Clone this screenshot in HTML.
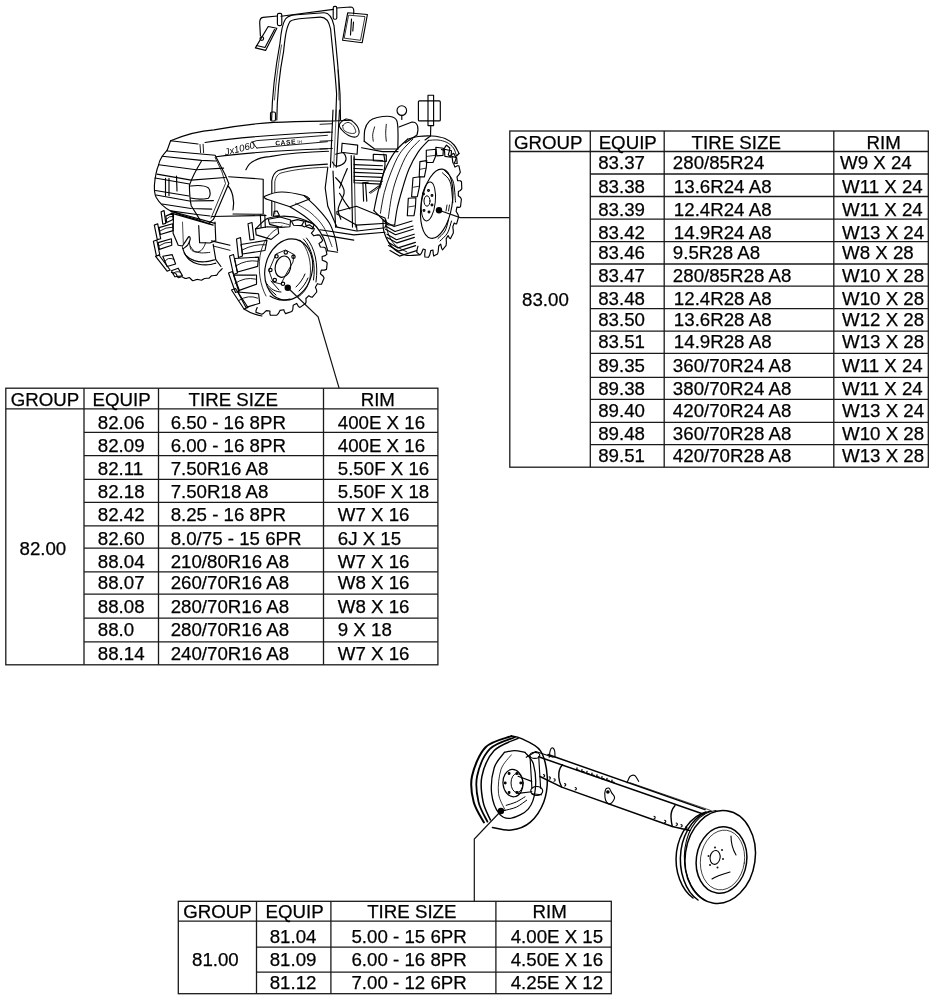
<!DOCTYPE html>
<html><head><meta charset="utf-8"><style>
html,body{margin:0;padding:0;background:#fff;width:936px;height:1000px;overflow:hidden}
svg{display:block;filter:grayscale(1)}
text{font-family:"Liberation Sans",sans-serif;font-size:18.7px;fill:#000;stroke:#000;stroke-width:0.25px}
.ln{fill:none;stroke:#1a1a1a;stroke-width:1.3}
.d{fill:none;stroke:#000;stroke-width:1.15;stroke-linecap:round;stroke-linejoin:round}
.d text{stroke:none}
</style></head><body>
<svg width="936" height="1000" viewBox="0 0 936 1000">
<rect x="509.8" y="131" width="418.50" height="336.20" class="ln"/>
<line x1="590.3" y1="131" x2="590.3" y2="467.2" class="ln"/>
<line x1="664.2" y1="131" x2="664.2" y2="467.2" class="ln"/>
<line x1="833.8" y1="131" x2="833.8" y2="467.2" class="ln"/>
<line x1="509.8" y1="151.5" x2="928.3" y2="151.5" class="ln"/>
<line x1="590.3" y1="174" x2="928.3" y2="174" class="ln"/>
<line x1="590.3" y1="196.5" x2="928.3" y2="196.5" class="ln"/>
<line x1="590.3" y1="219.1" x2="928.3" y2="219.1" class="ln"/>
<line x1="590.3" y1="241.7" x2="928.3" y2="241.7" class="ln"/>
<line x1="590.3" y1="264" x2="928.3" y2="264" class="ln"/>
<line x1="590.3" y1="286.2" x2="928.3" y2="286.2" class="ln"/>
<line x1="590.3" y1="308.6" x2="928.3" y2="308.6" class="ln"/>
<line x1="590.3" y1="331.2" x2="928.3" y2="331.2" class="ln"/>
<line x1="590.3" y1="353.4" x2="928.3" y2="353.4" class="ln"/>
<line x1="590.3" y1="377.3" x2="928.3" y2="377.3" class="ln"/>
<line x1="590.3" y1="399.4" x2="928.3" y2="399.4" class="ln"/>
<line x1="590.3" y1="422.3" x2="928.3" y2="422.3" class="ln"/>
<line x1="590.3" y1="444.7" x2="928.3" y2="444.7" class="ln"/>
<text x="514.06" y="149.00">GROUP</text>
<text x="598.67" y="149.00">EQUIP</text>
<text x="691.58" y="149.00">TIRE SIZE</text>
<text x="866.57" y="149.00">RIM</text>
<text x="598.19" y="169.45">83.37</text>
<text x="672.86" y="169.45">280/85R24</text>
<text x="842.02" y="169.45" dx="-2">W9 X 24</text>
<text x="598.19" y="193.05">83.38</text>
<text x="672.86" y="193.05" dx="1">13.6R24 A8</text>
<text x="842.02" y="193.05">W11 X 24</text>
<text x="598.19" y="215.95">83.39</text>
<text x="672.86" y="215.95" dx="1">12.4R24 A8</text>
<text x="842.02" y="215.95">W11 X 24</text>
<text x="598.19" y="238.95">83.42</text>
<text x="672.86" y="238.95" dx="1">14.9R24 A8</text>
<text x="842.02" y="238.95">W13 X 24</text>
<text x="598.19" y="259.45">83.46</text>
<text x="672.86" y="259.45">9.5R28 A8</text>
<text x="842.02" y="259.45">W8 X 28</text>
<text x="598.19" y="281.85">83.47</text>
<text x="672.86" y="281.85">280/85R28 A8</text>
<text x="842.02" y="281.85">W10 X 28</text>
<text x="598.19" y="304.55">83.48</text>
<text x="672.86" y="304.55" dx="1">12.4R28 A8</text>
<text x="842.02" y="304.55">W10 X 28</text>
<text x="598.19" y="326.25">83.50</text>
<text x="672.86" y="326.25" dx="1">13.6R28 A8</text>
<text x="842.02" y="326.25">W12 X 28</text>
<text x="598.19" y="348.35">83.51</text>
<text x="672.86" y="348.35" dx="1">14.9R28 A8</text>
<text x="842.02" y="348.35">W13 X 28</text>
<text x="598.19" y="372.10">89.35</text>
<text x="672.86" y="372.10">360/70R24 A8</text>
<text x="842.02" y="372.10">W11 X 24</text>
<text x="598.19" y="394.85">89.38</text>
<text x="672.86" y="394.85">380/70R24 A8</text>
<text x="842.02" y="394.85">W11 X 24</text>
<text x="598.19" y="417.35">89.40</text>
<text x="672.86" y="417.35">420/70R24 A8</text>
<text x="842.02" y="417.35">W13 X 24</text>
<text x="598.19" y="439.85">89.48</text>
<text x="672.86" y="439.85">360/70R28 A8</text>
<text x="842.02" y="439.85">W10 X 28</text>
<text x="598.19" y="462.35">89.51</text>
<text x="672.86" y="462.35">420/70R28 A8</text>
<text x="842.02" y="462.35">W13 X 28</text>
<text x="522.09" y="306.15">83.00</text>
<rect x="5.8" y="388.2" width="432.10" height="276.60" class="ln"/>
<line x1="84" y1="388.2" x2="84" y2="664.8" class="ln"/>
<line x1="158.5" y1="388.2" x2="158.5" y2="664.8" class="ln"/>
<line x1="323.5" y1="388.2" x2="323.5" y2="664.8" class="ln"/>
<line x1="5.8" y1="408.8" x2="437.9" y2="408.8" class="ln"/>
<line x1="84" y1="432.3" x2="437.9" y2="432.3" class="ln"/>
<line x1="84" y1="455.7" x2="437.9" y2="455.7" class="ln"/>
<line x1="84" y1="479.4" x2="437.9" y2="479.4" class="ln"/>
<line x1="84" y1="502.3" x2="437.9" y2="502.3" class="ln"/>
<line x1="84" y1="525.9" x2="437.9" y2="525.9" class="ln"/>
<line x1="84" y1="548.2" x2="437.9" y2="548.2" class="ln"/>
<line x1="84" y1="571.8" x2="437.9" y2="571.8" class="ln"/>
<line x1="84" y1="594.1" x2="437.9" y2="594.1" class="ln"/>
<line x1="84" y1="618.1" x2="437.9" y2="618.1" class="ln"/>
<line x1="84" y1="641.9" x2="437.9" y2="641.9" class="ln"/>
<text x="10.66" y="405.60">GROUP</text>
<text x="92.57" y="405.60">EQUIP</text>
<text x="188.58" y="405.60">TIRE SIZE</text>
<text x="360.67" y="405.60">RIM</text>
<text x="97.79" y="428.95">82.06</text>
<text x="170.65" y="428.95">6.50 - 16 8PR</text>
<text x="337.77" y="428.95">400E X 16</text>
<text x="97.79" y="451.65">82.09</text>
<text x="170.65" y="451.65">6.00 - 16 8PR</text>
<text x="337.77" y="451.65">400E X 16</text>
<text x="97.79" y="475.05">82.11</text>
<text x="170.65" y="475.05">7.50R16 A8</text>
<text x="337.77" y="475.05">5.50F X 16</text>
<text x="97.79" y="497.85">82.18</text>
<text x="170.65" y="497.85">7.50R18 A8</text>
<text x="337.77" y="497.85">5.50F X 18</text>
<text x="97.79" y="520.55">82.42</text>
<text x="170.65" y="520.55">8.25 - 16 8PR</text>
<text x="337.77" y="520.55">W7 X 16</text>
<text x="97.79" y="544.60">82.60</text>
<text x="170.65" y="544.60">8.0/75 - 15 6PR</text>
<text x="337.77" y="544.60">6J X 15</text>
<text x="97.79" y="567.55">88.04</text>
<text x="170.65" y="567.55">210/80R16 A8</text>
<text x="337.77" y="567.55">W7 X 16</text>
<text x="97.79" y="589.05">88.07</text>
<text x="170.65" y="589.05">260/70R16 A8</text>
<text x="337.77" y="589.05">W8 X 16</text>
<text x="97.79" y="613.15">88.08</text>
<text x="170.65" y="613.15">280/70R16 A8</text>
<text x="337.77" y="613.15">W8 X 16</text>
<text x="97.79" y="635.55">88.0</text>
<text x="170.65" y="635.55">280/70R16 A8</text>
<text x="337.77" y="635.55">9 X 18</text>
<text x="97.79" y="660.05">88.14</text>
<text x="170.65" y="660.05">240/70R16 A8</text>
<text x="337.77" y="660.05">W7 X 16</text>
<text x="19.49" y="555.05">82.00</text>
<rect x="178.3" y="901.3" width="433.00" height="92.40" class="ln"/>
<line x1="256.5" y1="901.3" x2="256.5" y2="993.7" class="ln"/>
<line x1="330.9" y1="901.3" x2="330.9" y2="993.7" class="ln"/>
<line x1="495.9" y1="901.3" x2="495.9" y2="993.7" class="ln"/>
<line x1="178.3" y1="921.2" x2="611.3" y2="921.2" class="ln"/>
<line x1="256.5" y1="947.2" x2="611.3" y2="947.2" class="ln"/>
<line x1="256.5" y1="972.2" x2="611.3" y2="972.2" class="ln"/>
<text x="183.16" y="918.30">GROUP</text>
<text x="265.57" y="918.30">EQUIP</text>
<text x="367.18" y="918.30">TIRE SIZE</text>
<text x="532.57" y="918.30">RIM</text>
<text x="269.69" y="943.35">81.04</text>
<text x="351.45" y="943.35">5.00 - 15 6PR</text>
<text x="510.67" y="943.35">4.00E X 15</text>
<text x="269.69" y="966.25">81.09</text>
<text x="351.45" y="966.25">6.00 - 16 8PR</text>
<text x="510.67" y="966.25">4.50E X 16</text>
<text x="269.69" y="988.85">81.12</text>
<text x="351.45" y="988.85">7.00 - 12 6PR</text>
<text x="510.67" y="988.85">4.25E X 12</text>
<text x="191.99" y="966.45">81.00</text>
<g class="d">
<path d="M271.6,120 C272,100 275,70 280,43 C281,32 282,24 285.5,19 C288,15.5 292,15 300,14.5 L323.8,12.8 C329,12.5 332,17 334,25.6 C336,45 338.3,68.4 340,94 L340.5,120"/>
<path d="M276.8,120 C277,100 280,70 283.6,51.3 C285,38 286,28 290,21.5 C292,19.5 296,18.8 305,18.2 L320.3,17.1 C326,17 329,21 330.6,29 C332,45 334.9,68.4 336.6,94 L335.7,120"/>
<path d="M274.5,100 C276,80 279,60 281.5,45" stroke-width="0.7"/>
<path d="M338,70 C338.5,80 339,90 339,100" stroke-width="0.7"/>
<rect x="277.4" y="13.4" width="4.4" height="12.2" rx="1.5"/>
<rect x="333.2" y="6.4" width="3.6" height="12.8" rx="1.5"/>
<rect x="270.5" y="112" width="5" height="9" rx="1.5"/>
<path d="M281,16.2 L333.5,9.4"/>
<path d="M277.5,16 L263,17.4 C260.5,17.8 259.6,19.5 259.7,23 L260.4,36"/>
<path d="M255.4,47.9 L265.6,50.4 L276.8,28.2 L268.2,26.5 Z"/>
<path d="M256.5,45.5 L265,47.5 L274.5,29.5"/>
<circle cx="261.8" cy="38.5" r="1.8"/>
<path d="M336.8,8 L350.5,7 C352.8,7 353.8,8.5 353.8,11 L353.6,14"/>
<path d="M347.7,12.8 L367.4,14.5 L362.2,42.7 L342.6,40.2 Z"/>
<path d="M349,15.2 L365,16.6 L360.5,40.3 L344.6,38.2 Z" stroke-width="0.8"/>
<path d="M351.5,19 L350.5,35 M353.5,22 L352.8,31"/>
<path d="M170.6,140.8 C182,136 198,131 214.1,129.9 C235,126 255,123.5 273.9,122.4 C295,121.5 315,121.3 333,121 C340,120.8 346,120.5 352,120.3"/>
<path d="M170.6,140.8 L167.2,150.2 M170.6,140.8 L198,144"/>
<path d="M200,144.5 L200.6,152.7 M203.1,144.2 L203.6,152.7" stroke-width="0.9"/>
<path d="M205,142.5 C240,137 285,134 329.5,132"/>
<path d="M216,156.8 C250,152 290,150 327.4,148.7"/>
<path d="M245.9,169.8 C248,165 251,162 254.7,160.5 C259,158 264,157 269.7,156.6 C285,154 305,152 328.5,151.3"/>
<path d="M271.8,215.4 L271.8,181.2 C272.5,176 275,172 278.2,170.5 C290,167 305,165 327.4,164.1"/>
<path d="M274.8,214 L274.8,182 C275.5,177 278,174 281,173 C292,170 306,168 327,167.2" stroke-width="0.8"/>
<path d="M252,142 L256.8,140.6 L327.4,135.3" stroke-width="0.9"/>
<path d="M256.8,148 L327.4,141.7" stroke-width="0.9"/>
<path d="M252,142 L256.8,148" stroke-width="0.9"/>
<text x="0" y="0" transform="translate(275.5,145.5) rotate(-4.5)" style="font-size:6.6px;font-weight:bold;letter-spacing:0.6px">CASE</text>
<text x="0" y="0" transform="translate(297.5,143.5) rotate(-4.5)" style="font-size:4.5px">IH</text>
<text x="0" y="0" transform="translate(225.5,155.5) rotate(-14)" style="font-size:9.6px;font-style:italic">Jx1060</text>
<path d="M167.2,150.2 C162,156 159,162 158.7,164.7 C156,171 155,178 154.4,185.2 C154.2,191 155,195 156.1,197.2 C160,204 165,208 170.6,210.9 C180,215 190,218 196.3,219.4 L206.5,222.8 L210,223.7"/>
<path d="M167.2,151 L215.1,155.3 L225.3,175 L228.8,183.5 L213.4,219.4 L208.2,223.7"/>
<path d="M215.1,157.5 L222,172 L225.5,183.5 L211,218" stroke-width="0.8"/>
<path d="M201.4,161.3 C196,170 192,178 189.4,185.2 C189.5,195 190,200 191.2,205.7 L199.7,219.4"/>
<path d="M162.1,156.2 L201.4,160.4 L216,161"/>
<path d="M158.7,164.7 L196.3,169.8 L223.6,168.1"/>
<path d="M157,174.1 L191.2,180.1 L225.3,177.5"/>
<path d="M155,178 L189.4,184 M155.5,190.5 L189,196"/>
<path d="M156.1,195 L189.5,201 L213.4,200.6"/>
<path d="M162,204 L191,208.5 L211.7,209.1"/>
<path d="M170.6,210.9 L197,214.5 L210,216"/>
<path d="M165.5,178.4 L165.5,195.5 M169,178.4 L169,195.5"/>
<path d="M190.5,186 C198,185 205,185.5 208.5,188 C211,191 210.5,196 208.5,198.2 C202,199.5 195,199 190.5,198"/>
<path d="M176.5,176 L177,191"/>
<path d="M228.8,176.7 L263.2,179.2 L263.2,214.3 L233,214"/>
<path d="M228,186 C232,190 235,200 233,210"/>
<path d="M212,216.5 L266,215.5"/>
<path d="M173.1,211.8 L215.0,223.4"/>
<path d="M171.4,213.1 L213.2,225.1"/>
<path d="M173.5,214.4 L173.1,233.2 L178.2,245.2 L182.5,246.0"/>
<path d="M198.7,225.5 L199.6,242.6 L209.8,243.0 L215.0,240.9"/>
<path d="M182.5,246.0 C183.0,245.2 184.8,242.5 185.9,240.9 C187.0,239.3 188.2,236.9 188.9,236.6 C189.6,236.3 190.4,237.8 190.2,239.2 C190.0,240.6 188.7,243.6 187.6,245.2 C186.5,246.7 184.0,248.0 183.3,248.6"/>
<path d="M189.3,241.8 C189.6,243.0 189.9,247.7 191.0,249.4 C192.2,251.2 194.4,251.9 196.2,252.0 C197.9,252.2 199.9,251.4 201.3,250.3 C202.7,249.2 204.0,246.5 204.7,245.2 C205.4,243.9 205.4,243.0 205.6,242.6" stroke-width="0.9"/>
<path d="M182.5,222.1 L183.3,243.5" stroke-width="0.7"/>
<path d="M215.0,222.1 L215.8,240.9"/>
<path d="M211.5,240.9 L230.0,245.2"/>
<path d="M213.2,246.0 L230.0,250.3" stroke-width="0.9"/>
<path d="M213.2,244.3 L215.8,259.7 L220.9,266.5"/>
<path d="M161.1,211.8 L164.1,210.6 L165.8,223.4 L162.8,224.2 Z"/>
<path d="M154.3,225.1 L157.7,223.8 L160.7,238.8 L157.3,239.6 Z"/>
<path d="M153.4,241.3 L156.8,240.0 L159.8,255.0 L156.4,255.9 Z"/>
<path d="M155.6,256.3 L159.0,255.0 L170.1,270.0 L167.1,271.2 Z"/>
<path d="M165.8,216.1 L172.6,213.1 L173.1,219.5 L166.7,222.5 Z"/>
<path d="M166.2,219.3 Q169.2,215.8 172.9,216.3" stroke-width="0.9"/>
<path d="M159.0,227.6 L172.6,223.8 L173.1,230.6 L160.3,234.5 Z"/>
<path d="M159.6,231.1 Q165.8,226.9 172.9,227.2" stroke-width="0.9"/>
<path d="M158.1,242.6 L171.4,238.8 L171.8,245.2 L159.4,249.4 Z"/>
<path d="M158.8,246.0 Q164.7,241.9 171.6,242.0" stroke-width="0.9"/>
<path d="M162.8,256.3 L172.2,254.6 L175.6,264.0 L167.1,266.5 Z"/>
<path d="M165.0,261.4 Q167.5,256.6 173.9,259.3" stroke-width="0.9"/>
<path d="M171.4,270.8 L178.2,268.2 L182.5,275.9 L174.8,276.8 Z"/>
<path d="M173.1,273.8 Q174.8,270.7 180.3,272.1" stroke-width="0.9"/>
<path d="M171.4,272.5 C171.9,272.6 174.7,272.7 175.6,273.4 C176.6,274.1 177.4,277.2 178.2,277.6 C179.0,278.1 180.6,276.7 181.6,276.8 C182.6,276.9 184.9,278.4 185.9,278.5 C186.9,278.6 188.4,277.4 189.3,277.6 C190.2,277.9 191.7,280.4 192.7,280.6 C193.8,280.9 195.9,279.4 197.0,279.4 C198.1,279.3 200.3,280.3 201.3,280.2 C202.3,280.1 203.7,278.8 204.7,278.5 C205.7,278.2 208.1,278.4 209.0,278.1 C209.9,277.7 210.5,276.3 211.5,275.9 C212.6,275.5 215.8,275.5 216.7,275.1 C217.6,274.6 217.8,273.2 218.4,272.5 C218.9,271.8 220.4,270.5 220.9,270.0 C221.5,269.4 222.1,268.8 222.2,268.7"/>
<path d="M182.5,247.7 C183.0,249.0 183.9,253.3 185.9,255.4 C187.9,257.6 191.3,259.5 194.4,260.6 C197.6,261.6 201.3,262.0 204.7,261.8 C208.1,261.7 213.2,260.1 215.0,259.7"/>
<path d="M184.2,252.9 C185.0,254.0 187.0,257.8 189.3,259.7 C191.6,261.6 194.7,263.1 197.9,264.0 C201.0,264.8 205.1,265.0 208.1,264.8 C211.1,264.7 214.5,263.4 215.8,263.1"/>
<path d="M190.2,246.0 C190.9,246.9 192.6,250.0 194.4,251.2 C196.3,252.3 198.7,252.6 201.3,252.9 C203.8,253.1 208.4,252.5 209.8,252.4" stroke-width="0.9"/>
<path d="M301.3,225.2 L304.5,226.9 L307.7,225.2 L309.7,224.9 L314.3,228.8 L313.6,230.6 L311.4,233.2 L313.8,235.8 L317.6,234.9 L319.7,235.1 L322.7,240.3 L321.3,242.1 L319.0,243.6 L320.4,247.0 L324.0,247.3 L325.7,248.2 L326.9,254.3 L325.2,255.6 L322.1,256.5 L322.3,260.2 L325.8,261.6 L327.2,263.0 L326.5,269.4 L324.4,270.1 L321.3,270.1 L320.4,273.8 L323.2,276.3 L324.1,278.1 L321.5,284.2 L319.3,284.2 L317.4,283.7 L315.4,287.2 L316.6,290.1 L316.7,292.0 L312.4,297.2 L310.6,296.9 L308.9,295.7 L305.9,298.5 L306.1,301.7 L305.5,303.5 L300.0,307.4 L298.5,306.5 L296.6,303.4 L293.2,305.2 L292.8,309.4 L291.8,311.5 L285.6,313.6 L284.4,311.7 L283.8,309.7 L280.0,310.4 L278.3,313.7 L276.8,315.2 L270.4,315.3 L269.8,313.5 L270.0,311.0 L266.3,310.6 L263.7,313.2 L261.9,314.2 L256.0,312.4 L256.0,310.5 L257.2,307.5"/>
<ellipse cx="288.7" cy="269.5" rx="23.5" ry="31" transform="rotate(14 288.7 269.5)"/>
<path d="M300,240 C308,248 312,262 310,278 C308,288 303,294 298,297" stroke-width="0.8"/>
<path d="M303.5,239 C312,248 316,264 313.5,280 M306.5,238 C315,248 318.5,264 316,282" stroke-width="1"/>
<path d="M296,287 C300,283 303,279 305,274 M299,291 C303,287 306,283 308,278" stroke-width="1"/>
<ellipse cx="283" cy="266.7" rx="7.7" ry="10.8" transform="rotate(14 283 266.7)"/>
<path d="M276.5,253.8 L285.5,250 L294,254.5 L293,262 L285,276 L281,284 L273,282 L269,271 Z" stroke-width="0.9"/>
<circle cx="276.5" cy="256.3" r="1.7"/>
<circle cx="285.8" cy="252.4" r="1.7"/>
<circle cx="293.5" cy="256.8" r="1.7"/>
<circle cx="270.4" cy="270" r="1.7"/>
<circle cx="274.8" cy="280" r="1.7"/>
<circle cx="283" cy="283.8" r="1.7"/>
<path d="M267,284 C270,289 276,292 281,292 M268.5,288 L276,295 M271,281 L279,290" stroke-width="1"/>
<path d="M270,296 C276,300 283,301 290,299" stroke-width="1.1"/>
<path d="M241,244.5 L267,240.2 L265,250.5 L242.5,254 Z"/>
<path d="M242.5,249.8 Q254.0,243.8 266.0,244.8" stroke-width="0.9"/>
<path d="M234.5,258.5 L258.6,257.1 L257.6,266.4 L237.5,272 Z"/>
<path d="M236.0,265.8 Q246.6,259.3 257.6,261.2" stroke-width="0.9"/>
<path d="M233.5,275.1 L256.5,275 L256.5,284.3 L238.5,290.6 Z"/>
<path d="M235.0,283.4 Q245.0,276.6 255.5,279.1" stroke-width="0.9"/>
<path d="M237.8,292 L258.6,293.8 L259.7,303.3 L246,307.4 Z"/>
<path d="M239.3,300.2 Q248.2,294.4 257.6,298.1" stroke-width="0.9"/>
<path d="M248,223.7 L252,222.5 L254,239.4 L250,240 Z"/>
<path d="M236.5,239 L240.5,237.5 L242.5,256 L238.5,257.5 Z"/>
<path d="M229.5,256 L233.5,254.5 L237.5,273 L233.5,274.5 Z"/>
<path d="M228.5,273 L232.5,271.5 L239.5,291 L235.5,292.5 Z"/>
<path d="M231.5,290 L235.5,288.5 L248,307.5 L244,309 Z"/>
<path d="M244,309 C250,313 256,315 262,316" />
<path d="M282,226 C268,232 262,244 260,256 C258,270 260,285 266,296" stroke-width="0.8"/>
<path d="M255.5,228.9 C257.5,227.2 263.0,220.6 267.4,218.5 C271.9,216.3 277.4,216.3 282.4,216.2 C287.4,216.1 293.4,217.0 297.4,217.7 C301.3,218.5 303.6,219.6 306.3,220.7 C309.1,221.8 312.6,223.8 313.8,224.4"/>
<path d="M268.2,219.2 L280.2,217.0 L290.6,220.0 L289.9,226.7 L280.9,227.4 L269.7,224.4 Z"/>
<path d="M255.5,228.9 L267.4,226.7 L277.9,227.4 L278.7,233.4 L271.2,239.4 L256.2,234.9 Z"/>
<path d="M273.4,216.2 L274.2,211.4 L277.2,211.0 L279.4,215.5 Z"/>
<path d="M291.4,221.1 L297.4,219.6 L304.1,221.1 L301.8,225.6 L293.6,225.2 Z"/>
<path d="M304.8,221.1 L314.6,223.7 L312.3,228.9 L306.3,226.7 Z"/>
<path d="M270.4,223.0 C272.1,222.9 277.0,222.3 280.2,222.6 C283.3,222.9 287.6,224.4 289.1,224.8" stroke-width="0.8"/>
<path d="M260.3,214.7 L261.1,227.4"/>
<path d="M264.8,214.7 L265.3,227.4"/>
<path d="M266.2,199.0 C266.0,198.5 262.2,197.4 264.8,196.2 C267.4,195.0 275.1,192.1 281.6,192.0 C288.1,191.9 300.3,194.9 304.0,195.5 L304.0,195.5 C306.3,197.7 313.8,204.2 318.0,208.8 C322.2,213.3 326.4,218.1 329.2,222.8 C332.0,227.5 333.4,232.1 334.8,236.8 C336.2,241.5 337.1,248.5 337.6,250.8 L327.8,250.8 C327.1,248.7 325.4,242.2 323.6,238.2 C321.7,234.2 319.9,230.7 316.6,227.0 C313.3,223.3 308.4,219.2 304.0,215.8 C299.6,212.4 292.3,208.2 290.0,206.7 L266.2,199.0 Z" fill="#fff" stroke="none"/>
<path d="M266.2,199.0 C266.0,198.5 262.2,197.4 264.8,196.2 C267.4,195.0 275.1,192.1 281.6,192.0 C288.1,191.9 299.3,194.3 304.0,195.5 C308.7,196.7 308.7,198.4 309.6,199.0"/>
<path d="M266.2,199.0 L290.0,206.7 L309.6,199.0"/>
<path d="M304.0,195.5 C306.3,197.7 313.8,204.2 318.0,208.8 C322.2,213.3 326.4,218.1 329.2,222.8 C332.0,227.5 333.4,232.1 334.8,236.8 C336.2,241.5 337.1,248.5 337.6,250.8"/>
<path d="M290.0,206.7 C292.3,208.2 299.6,212.4 304.0,215.8 C308.4,219.2 313.3,223.3 316.6,227.0 C319.9,230.7 321.7,234.2 323.6,238.2 C325.4,242.2 327.1,248.7 327.8,250.8"/>
<path d="M295.6,203.2 C298.2,204.8 306.3,209.0 311.0,213.0 C315.7,217.0 320.1,221.4 323.6,227.0 C327.1,232.6 330.6,243.3 332.0,246.6" stroke-width="0.8"/>
<path d="M327.8,250.8 L337.6,252.2"/>
<path d="M333.0,110.0 L330.4,167.2"/>
<path d="M339.5,110.0 L336.3,167.2"/>
<path d="M336.3,110.0 L333.7,167.2" stroke-width="0.6"/>
<path d="M339.5,124.3 C340.3,122.6 343.6,119.4 346.0,119.1 C348.4,118.8 351.7,120.4 353.8,122.4 C356.0,124.3 358.6,128.4 359.0,130.8 C359.5,133.2 358.2,135.9 356.4,136.7 C354.7,137.4 351.1,136.6 348.6,135.4 C346.1,134.2 343.0,131.4 341.5,129.5 C339.9,127.7 338.8,126.0 339.5,124.3 Z"/>
<path d="M342.8,125.6 C343.3,124.2 346.2,122.4 348.0,122.4 C349.7,122.4 351.9,124.0 353.2,125.6 C354.5,127.2 356.1,130.8 355.8,132.1 C355.4,133.4 353.1,133.6 351.2,133.4 C349.4,133.2 346.1,132.1 344.7,130.8 C343.3,129.5 342.2,127.0 342.8,125.6 Z" stroke-width="0.8"/>
<path d="M342.1,143.2 L357.7,145.1 L357.1,154.2 L341.5,152.3 Z"/>
<path d="M335.6,154.2 C336.9,154.0 341.7,152.1 343.4,152.9 C345.1,153.8 346.2,157.5 346.0,159.4 C345.8,161.4 343.8,163.6 342.1,164.6 C340.4,165.7 337.2,166.4 335.6,165.9 C334.0,165.5 332.9,162.7 332.4,162.0"/>
<path d="M327.8,167.2 L325.2,188.0 L327.8,206.3 L336.9,227.1"/>
<path d="M333.0,171.1 L335.6,227.1"/>
<path d="M351.2,155.5 L352.5,227.1"/>
<path d="M354.1,155.5 L355.4,227.1" stroke-width="0.8"/>
<path d="M335.6,177.6 C336.7,178.9 340.7,182.8 342.1,185.4 C343.5,188.0 344.7,189.3 344.1,193.3 C343.4,197.2 338.8,204.5 338.2,208.9 C337.7,213.2 340.4,217.5 340.8,219.3"/>
<path d="M347.3,168.5 C346.7,170.1 344.7,174.4 343.4,177.6 C342.1,180.9 340.2,186.3 339.5,188.0"/>
<path d="M339.5,193.3 C340.6,195.0 344.3,201.1 346.0,203.7 C347.8,206.3 349.3,208.0 349.9,208.9"/>
<path d="M354.1,159.4 L382.4,160.5"/>
<path d="M354.1,164.6 L382.4,165.7"/>
<path d="M354.1,168.5 L382.4,169.6"/>
<path d="M354.1,172.4 L382.4,173.5"/>
<path d="M354.1,176.3 L382.4,177.4"/>
<path d="M354.1,180.2 L382.4,181.3"/>
<path d="M354.1,156.8 L354.1,182.8 L381.1,184.1"/>
<path d="M373.3,154.2 L386.3,154.9 L386.3,161.4 L373.3,160.7 Z"/>
<path d="M383.7,154.2 C384.0,156.0 385.3,160.7 385.0,164.6 C384.8,168.5 383.3,173.7 382.4,177.6 C381.6,181.5 380.3,186.3 379.8,188.0"/>
<path d="M369.4,192.6 L378.5,186.1"/>
<path d="M370.7,193.3 L379.2,187.4" stroke-width="0.8"/>
<path d="M362.9,182.8 L363.6,201.1"/>
<path d="M365.5,182.8 L366.8,201.1"/>
<path d="M362.9,182.8 L368.1,182.2"/>
<path d="M336.9,211.5 L356.4,206.3 L385.0,218.0 L386.3,223.2 L356.4,225.1 L336.9,214.1 Z"/>
<path d="M356.4,225.1 L357.1,231.0 L385.0,227.7 L386.3,223.2"/>
<path d="M336.9,227.1 L356.4,231.0"/>
<path d="M320.0,229.7 L353.8,234.9 L385.0,232.3"/>
<path d="M322.6,234.9 L353.8,240.1"/>
<path d="M320.0,124.3 L332.4,123.7" stroke-width="0.9"/>
<path d="M320.0,132.8 L332.4,132.1" stroke-width="0.9"/>
<path d="M320.0,141.2 L332.4,140.6" stroke-width="0.9"/>
<path d="M320.0,149.0 L332.4,148.4" stroke-width="0.9"/>
<path d="M364.2,141.2 C364.3,139.3 364.0,132.9 364.9,129.5 C365.7,126.2 367.4,123.1 369.4,121.1 C371.5,119.1 373.8,118.3 377.2,117.5 C380.7,116.8 387.0,116.0 390.2,116.5 C393.5,117.0 395.4,117.6 396.7,120.4 C398.0,123.2 397.9,128.6 398.0,133.4 C398.2,138.2 397.8,146.4 397.8,149.0"/>
<path d="M374.6,126.9 C374.3,128.2 372.9,132.3 372.7,134.7 C372.5,137.1 373.2,140.1 373.3,141.2" stroke-width="0.9"/>
<path d="M386.3,124.3 C386.2,125.8 385.7,130.6 385.7,133.4 C385.7,136.2 386.2,139.9 386.3,141.2" stroke-width="0.9"/>
<path d="M364.2,141.2 L374.6,149.0 L398.0,149.0"/>
<path d="M361.6,147.7 L382.4,151.6 L398.0,151.6"/>
<path d="M399,127 L412,122 C418,122 419,128 417,135 L405,143"/>
<circle cx="401.8" cy="110.6" r="4.8"/>
<path d="M401.8,115.4 L401.8,119.5"/>
<rect x="418.4" y="100.9" width="21.9" height="20" rx="1"/>
<rect x="428" y="95.2" width="5.6" height="30.4"/>
<path d="M430.8,125.6 L430.5,136 L425,140"/>
<path d="M407.7,139.1 C405.5,141.3 398.6,146.7 394.7,152.1 C390.8,157.5 387.1,164.9 384.3,171.6 C381.5,178.3 379.5,186.0 377.8,192.5 C376.1,199.0 374.5,207.7 373.9,210.7"/>
<path d="M412.9,139.1 C410.7,141.5 403.6,147.8 399.9,153.4 C396.2,159.0 393.4,166.4 390.8,172.9 C388.2,179.4 386.0,185.8 384.3,192.5 C382.6,199.2 381.0,209.8 380.4,213.3" stroke-width="0.9"/>
<path d="M419.4,140.4 C417.4,142.6 411.2,148.0 407.7,153.4 C404.2,158.8 401.2,166.2 398.6,172.9 C396.0,179.6 393.8,186.2 392.1,193.8 C390.4,201.4 388.9,214.4 388.2,218.5" stroke-width="0.9"/>
<path d="M428.5,140.4 C426.8,142.3 421.4,147.3 418.1,152.1 C414.9,156.9 411.6,162.9 409.0,169.0 C406.4,175.1 404.4,182.0 402.5,188.5 C400.6,195.0 398.6,201.9 397.3,208.0 C396.0,214.1 395.1,222.2 394.7,225.0"/>
<path d="M407.7,139.1 C409.4,138.7 413.9,137.0 418.0,136.5 C422.1,136.0 427.5,135.7 432.0,136.0 C436.5,136.3 441.3,137.0 445.0,138.5 C448.7,140.0 451.8,142.5 454.1,145.0 C456.4,147.5 458.2,152.1 459.0,153.5"/>
<path d="M428.5,140.4 C430.1,140.3 434.9,139.7 438.0,140.0 C441.1,140.3 444.4,141.2 447.0,142.5 C449.6,143.8 451.9,145.8 453.5,148.0 C455.1,150.2 456.0,154.7 456.5,156.0" stroke-width="0.9"/>
<path d="M459,153.5 L456.5,156"/>
<path d="M373.9,210.7 L388.2,225 L394.7,225"/>
<path d="M441.4,149.4 L443.5,150.3 L445.4,146.5 L446.6,145.2 L449.8,148.0 L449.5,150.7 L448.3,154.6 L450.0,156.7 L452.4,153.9 L453.7,153.3 L456.2,158.1 L455.4,160.7 L453.7,163.9 L454.9,167.1 L457.5,165.7 L458.9,165.8 L460.3,172.2 L459.1,174.4 L457.0,176.8 L457.6,180.7 L460.3,180.7 L461.5,181.7 L461.8,188.9 L460.3,190.5 L458.4,191.5 L458.3,195.8 L460.5,197.5 L461.4,199.2 L460.5,206.7 L459.1,207.4 L456.9,207.1 L456.1,211.3 L458.0,214.6 L458.6,216.9 L456.6,223.9 L455.1,223.6 L454.2,223.0 L452.8,226.9 L453.3,230.6 L453.3,232.9 L450.4,238.7 L449.4,238.1 L448.1,235.5 L446.2,238.6 L446.4,243.2 L446.0,245.7 L442.5,249.8 L441.6,248.2 L440.7,244.1 L438.7,246.0 L438.2,251.4 L437.5,254.1 L433.7,256.1 L433.2,253.5 L433.0,250.0 L430.8,250.6 L429.6,255.3 L428.5,257.3 L424.9,257.0 L424.7,254.3 L425.3,249.8 L423.2,249.0 L421.3,253.4 L420.0,255.0 L416.8,252.4 L417.1,249.4 L418.0,246.2"/>
<ellipse cx="436.75" cy="203.7" rx="15.35" ry="35" transform="rotate(9.6 436.75 203.7)"/>
<path d="M442.4,172.9 C443.7,174.4 448.5,177.0 450.2,182.0 C451.9,187.0 452.4,199.3 452.8,202.8" stroke-width="1"/>
<path d="M444.5,170.5 C445.9,172.2 451.2,175.8 453.0,181.0 C454.8,186.2 455.1,198.5 455.5,202.0" stroke-width="1"/>
<path d="M448.5,220.0 C447.9,221.8 446.8,227.9 445.0,231.0 C443.2,234.1 439.2,237.2 438.0,238.5" stroke-width="1"/>
<path d="M451.5,221.0 C450.8,223.0 449.4,229.7 447.5,233.0 C445.6,236.3 441.2,239.7 440.0,241.0" stroke-width="1"/>
<ellipse cx="428.3" cy="201.5" rx="7" ry="19.5" transform="rotate(6 428.3 201.5)" stroke-width="1"/>
<ellipse cx="427" cy="201" rx="3" ry="5.2" stroke-width="1"/>
<circle cx="428.5" cy="190.5" r="0.9"/>
<circle cx="432" cy="195.5" r="0.9"/>
<circle cx="432" cy="205" r="0.9"/>
<circle cx="429" cy="212" r="0.9"/>
<circle cx="424" cy="210.5" r="0.9"/>
<circle cx="423.5" cy="194" r="0.9"/>
<path d="M447,205 L446,211 M449.5,205 L448.5,211" stroke-width="0.9"/>
<path d="M426.3,150.2 L435.8,149.2 L435.4,156.8 L433.0,162.5 L426.3,162.5 Z"/>
<path d="M426.8,156.4 L434.9,155.4" stroke-width="0.8"/>
<path d="M419.9,161.6 L426.8,160.6 L426.3,167.3 L424.4,176.8 L419.2,176.8 Z"/>
<path d="M420.4,169.2 L425.8,168.2" stroke-width="0.8"/>
<path d="M413.0,177.7 L419.9,176.8 L419.5,186.3 L417.3,196.7 L411.6,196.7 Z"/>
<path d="M413.5,187.2 L419.0,186.2" stroke-width="0.8"/>
<path d="M408.3,198.2 L415.9,197.7 L415.4,207.2 L414.0,215.7 L407.3,215.7 Z"/>
<path d="M408.8,206.9 L414.9,205.9" stroke-width="0.8"/>
<path d="M435.8,147.3 L443.4,148.3 L443.0,155.4 L436.8,155.9 Z"/>
<path d="M444.4,149.2 L451.5,150.7 L451.0,157.3 L444.9,156.4 Z"/>
<path d="M452.0,156.4 L456.7,157.8 L457.2,163.5 L452.9,163.0 Z"/>
<path d="M384.0,221.0 L394.0,226.5 L412.0,221.0 M385.5,226.0 L395.0,231.5 L413.0,226.0"/>
<path d="M385.5,229.2 L395.5,234.7 L413.2,229.2 M387.0,234.2 L396.5,239.7 L414.2,234.2"/>
<path d="M387.0,237.4 L397.0,242.9 L414.4,237.4 M388.5,242.4 L398.0,247.9 L415.4,242.4"/>
<path d="M388.5,245.6 L398.5,251.1 L415.6,245.6 M390.0,250.6 L399.5,256.1 L416.6,250.6"/>
<path d="M383.0,219.5 C383.2,221.6 382.5,227.4 384.0,232.0 C385.5,236.6 388.5,243.2 392.0,247.0 C395.5,250.8 400.5,253.7 405.0,255.0 C409.5,256.3 416.7,254.9 419.0,254.9"/>
<path d="M386.0,220.0 C386.3,222.2 386.5,228.8 388.0,233.0 C389.5,237.2 391.8,241.8 395.0,245.0 C398.2,248.2 405.0,250.8 407.0,252.0" stroke-width="0.9"/>
</g>
<g class="d" stroke-width="1.3">
<path d="M511.3,736.1 C507.0,738.0 492.2,740.5 485.6,747.2 C479.1,753.9 474.0,767.2 472.0,776.3 C470.0,785.4 471.7,794.2 473.7,801.9 C475.7,809.6 482.2,819.0 483.9,822.4" stroke-width="2.0"/>
<path d="M514.7,737.3 C510.6,739.2 496.2,742.4 489.9,748.9 C483.6,755.4 479.0,767.5 477.1,776.3 C475.2,785.1 476.8,794.4 478.5,801.9 C480.2,809.5 485.9,818.3 487.4,821.6" stroke-width="1.8"/>
<path d="M518.1,738.3 C514.1,740.4 500.2,744.3 494.2,750.6 C488.1,757.0 483.7,767.7 481.9,776.3 C480.0,784.8 481.7,794.7 483.1,801.9 C484.5,809.2 489.2,816.9 490.4,819.9" stroke-width="1.5"/>
<path d="M511.3,736.1 C513.0,736.5 516.7,736.3 521.5,738.7 C526.4,741.1 536.1,744.4 540.3,750.6 C544.6,756.9 546.6,767.7 547.2,776.3 C547.7,784.8 546.6,794.2 543.8,801.9 C540.9,809.6 535.5,817.7 530.1,822.4 C524.7,827.1 517.5,829.3 511.3,830.1 C505.0,831.0 495.6,828.0 492.5,827.6" stroke-width="1.5"/>
<path d="M504.4,752.4 C502.7,754.9 496.3,760.9 494.2,767.7 C492.1,774.6 490.8,785.7 491.6,793.4 C492.5,801.1 496.0,809.8 499.3,813.9 C502.6,818.0 506.4,819.0 511.3,818.2 C516.1,817.3 524.4,813.5 528.4,808.8 C532.4,804.1 534.4,797.4 535.2,790.0 C536.1,782.5 535.2,770.6 533.5,764.3 C531.8,758.0 526.4,754.3 525.0,752.4" stroke-width="1.3"/>
<path d="M525.0,752.4 C523.2,752.1 518.1,750.6 514.7,750.6 C511.3,750.6 506.2,752.1 504.4,752.4" stroke-width="1.3"/>
<path d="M511.3,754.9 C509.6,757.3 503.2,763.0 501.0,769.4 C498.9,775.9 497.7,786.5 498.5,793.4 C499.2,800.2 504.2,807.6 505.3,810.5" stroke-width="0.8"/>
<ellipse cx="513" cy="783.1" rx="10" ry="13.7" transform="rotate(-5 513 783.1)" stroke-width="1.2"/>
<ellipse cx="517" cy="783" rx="6" ry="9.5" stroke-width="1"/>
<circle cx="520.8" cy="783.1" r="0.9" fill="#000"/>
<circle cx="516.9" cy="792.6" r="0.9" fill="#000"/>
<circle cx="509.1" cy="792.6" r="0.9" fill="#000"/>
<circle cx="505.2" cy="783.1" r="0.9" fill="#000"/>
<circle cx="509.1" cy="773.6" r="0.9" fill="#000"/>
<circle cx="516.9" cy="773.6" r="0.9" fill="#000"/>
<path d="M518.1,776.3 L531.8,781.4"/>
<path d="M518.1,793.4 L531.8,791.7"/>
<path d="M506.2,805.3 C507.9,804.8 513.3,803.3 516.4,801.9 C519.5,800.5 523.5,797.6 525.0,796.8" stroke-width="1.0"/>
<path d="M504.4,810.5 C506.4,809.9 512.7,808.8 516.4,807.1 C520.1,805.3 525.0,801.4 526.7,800.2" stroke-width="1.0"/>
<path d="M530.0,756.3 L531.9,788.1"/>
<path d="M538.7,756.3 L540.6,788.1"/>
<ellipse cx="534.8" cy="755.4" rx="5" ry="3"/>
<ellipse cx="536.7" cy="791.0" rx="6" ry="4.5"/>
<path d="M531.9,793.8 L541.5,794.8"/>
<path d="M526.2,757.3 L535.8,751.5 L553.1,757.3"/>
<path d="M549.2,757.3 C549.4,756.2 549.7,752.2 550.2,750.6 C550.7,749.0 551.4,747.7 552.1,747.7 C552.9,747.7 554.1,749.0 554.6,750.6 C555.1,752.2 554.9,756.2 555.0,757.3" stroke-width="1.1"/>
<path d="M548,754.5 L705,809.6" stroke-width="1.5"/>
<path d="M540,757.3 L703.1,814" stroke-width="1.5"/>
<path d="M540,776.5 L561.7,787.1 L672.3,826.5 L689.6,830.4" stroke-width="1.5"/>
<path d="M562.5,764.8 C559.5,768 558.5,773 558.8,777 C559,781 560.5,785 561.7,787.1" stroke-width="1.4"/>
<path d="M675,805.5 C672,809 670.8,813 671,817 C671.2,821 671.8,824.5 672.3,826.5" stroke-width="1.4"/>
<path d="M577.0,768.0 l-0.3,1.8 l2.4,0.5" stroke-width="1.3"/>
<path d="M582.0,769.7 l-0.3,1.8 l2.4,0.5" stroke-width="1.3"/>
<path d="M587.0,771.5 l-0.3,1.8 l2.4,0.5" stroke-width="1.3"/>
<path d="M592.0,773.2 l-0.3,1.8 l2.4,0.5" stroke-width="1.3"/>
<path d="M597.0,774.9 l-0.3,1.8 l2.4,0.5" stroke-width="1.3"/>
<path d="M602.0,776.7 l-0.3,1.8 l2.4,0.5" stroke-width="1.3"/>
<path d="M607.0,778.4 l-0.3,1.8 l2.4,0.5" stroke-width="1.3"/>
<path d="M612.0,780.2 l-0.3,1.8 l2.4,0.5" stroke-width="1.3"/>
<path d="M605.0,797.7 C604.7,795.6 604.7,791.6 605.4,790.0 C606.0,788.4 607.8,787.6 608.8,788.1 C609.9,788.6 610.8,791.3 611.7,792.9 C612.7,794.5 614.8,795.9 614.6,797.7 C614.5,799.5 612.1,802.7 610.8,803.5 C609.5,804.3 607.9,803.5 606.9,802.5 C606.0,801.5 605.3,799.8 605.0,797.7 Z" stroke-width="1.1"/>
<circle cx="607.9" cy="791.9" r="1.2" fill="#000"/>
<path d="M627.1,782.7 C627.6,781.7 628.7,777.7 630.0,776.5 C631.3,775.4 633.4,774.8 634.8,775.6 C636.2,776.4 638.0,780.4 638.7,781.3" stroke-width="1.1"/>
<path d="M564.6,783.6 a1.2,1.2 0 1,1 0,2.4" stroke-width="1.1"/>
<path d="M575.2,787.5 a1.2,1.2 0 1,1 0,2.4" stroke-width="1.1"/>
<path d="M654.0,816.3 a1.2,1.2 0 1,1 0,2.4" stroke-width="1.1"/>
<path d="M664.6,820.2 a1.2,1.2 0 1,1 0,2.4" stroke-width="1.1"/>
<path d="M543.5,774.6 a1.2,1.2 0 1,1 0,2.4" stroke-width="1.1"/>
<path d="M549.2,776.9 a1.2,1.2 0 1,1 0,2.4" stroke-width="1.1"/>
<path d="M554.0,778.8 a1.2,1.2 0 1,1 0,2.4" stroke-width="1.1"/>
<path d="M676.2,823.0 a1.2,1.2 0 1,1 0,2.4" stroke-width="1.1"/>
<path d="M681.0,824.6 a1.2,1.2 0 1,1 0,2.4" stroke-width="1.1"/>
<path d="M685.8,826.9 a1.2,1.2 0 1,1 0,2.4" stroke-width="1.1"/>
<path d="M630.0,782.7 L710.0,810.2" stroke-width="0.7"/>
<ellipse cx="720.2" cy="857" rx="35" ry="46.6" transform="rotate(8 720.2 857)" stroke-width="1.5"/>
<path d="M711,811 C696,814 684,830 681,850 C678,872 686,892 698,900" stroke-width="1.5"/>
<path d="M706,812 C691,816 679,833 676.5,852 C674,872 682,890 693,898" stroke-width="1.5"/>
<path d="M716,810.5 C700,812 688,827 685,848 C682,870 690,890 703,899" stroke-width="1.1"/>
<ellipse cx="721.5" cy="860" rx="25.2" ry="33.3" transform="rotate(8 721.5 860)" stroke-width="1.5"/>
<ellipse cx="722.5" cy="860" rx="22" ry="30" transform="rotate(8 722.5 860)" stroke-width="0.7"/>
<ellipse cx="715.1" cy="857.4" rx="5" ry="7" transform="rotate(10 715.1 857.4)" stroke-width="1.1"/>
<g fill="#111" stroke="none"><circle cx="715" cy="847.5" r="1"/><circle cx="722" cy="850" r="1"/><circle cx="723" cy="859" r="1"/><circle cx="717.5" cy="867.5" r="1"/><circle cx="710" cy="865" r="1"/><circle cx="708.5" cy="856" r="1"/></g>
<path d="M731,836 C731,843 733,850 736,855 M712,879 C716,876 723,874 730,872" stroke-width="1.1"/>
</g>
<g class="ldr" fill="none" stroke="#111" stroke-width="1.2">
<path d="M439,210.3 L460.1,217.6 L509.5,217.6"/>
<path d="M287.75,287.75 L318.1,316.9 L339.1,388.2"/>
<path d="M500.95,811 L474.3,839 L474.3,901.3"/>
</g>
<g fill="#000">
<circle cx="439" cy="210.3" r="3.2"/>
<circle cx="287.75" cy="287.75" r="3.2"/>
<circle cx="500.95" cy="811" r="3.2"/>
</g>

</svg>
</body></html>
